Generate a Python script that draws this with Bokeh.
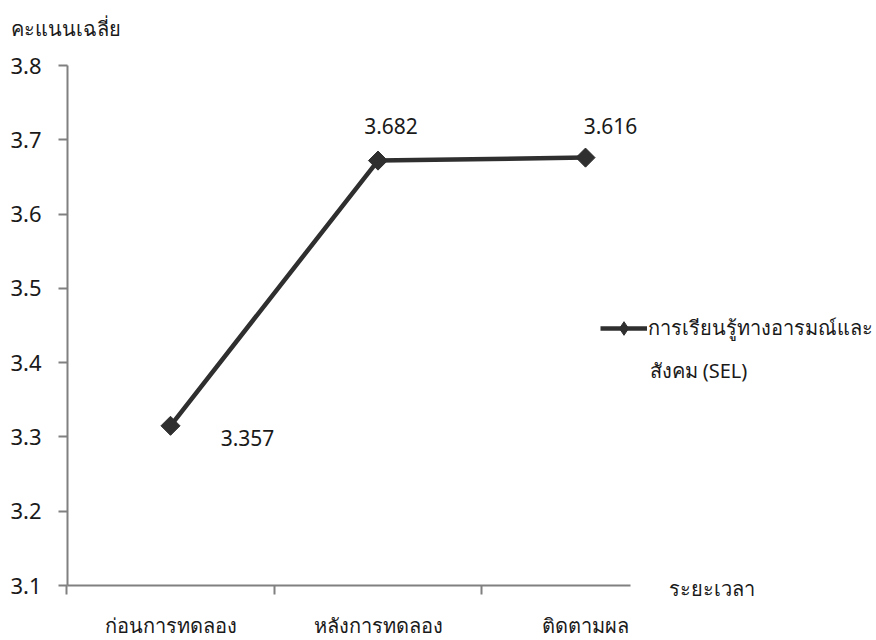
import math
from bokeh.plotting import figure
from bokeh.models import ColumnDataSource, FixedTicker, Label, Legend, LegendItem, Range1d
from bokeh.core.properties import value
from bokeh.embed import file_html
from bokeh.resources import INLINE

# ---- data ----
categories = ["ก่อนการทดลอง", "หลังการทดลอง", "ติดตามผล"]
plotted_scores = [3.315, 3.672, 3.676]        # marker positions as drawn
score_labels = ["3.357", "3.682", "3.616"]   # data labels as printed
series_name = "การเรียนรู้ทางอารมณ์และ"
series_name_2 = "สังคม (SEL)"
y_ticks = [3.1, 3.2, 3.3, 3.4, 3.5, 3.6, 3.7, 3.8]
y_title = "คะแนนเฉลี่ย"
x_title = "ระยะเวลา"

FONT = "Noto Sans"
xs = list(range(len(categories)))

# label offsets (style, not data)
lab_dx = [77, 13, 25]
lab_dy = [12, -35, -32]

src = ColumnDataSource(dict(x=xs, y=plotted_scores, lab=score_labels, dx=lab_dx, dy=lab_dy))

# frame covers the whole canvas; axes are pinned at fixed locations
PX_X = 207.5   # px per category
PX_Y = 742.9   # px per score unit
x0_px, y_top_px = 170.0, 65.0
xr = Range1d(-x0_px / PX_X, (876 - x0_px) / PX_X)
yr = Range1d(3.8 - (640 - y_top_px) / PX_Y, 3.8 + y_top_px / PX_Y)
x_left = -0.496
x_right = 2.217

p = figure(width=876, height=640, output_backend="svg", toolbar_location=None,
           x_range=xr, y_range=yr,
           min_border_left=0, min_border_right=0, min_border_top=0, min_border_bottom=0)
p.outline_line_color = None
p.grid.visible = False
p.background_fill_color = "white"

line_col = "#2f2f2f"
nan = float("nan")
r_line = p.line("x", "y", source=src, line_color=line_col, line_width=4.5)
r_pts = p.scatter("x", "y", source=src, marker="square", angle=math.pi / 4, size=13.5,
                  fill_color=line_col, line_color=line_col)
r_leg = p.scatter(x=[nan], y=[nan], marker="diamond", size=17,
                  fill_color=line_col, line_color=line_col)

p.text("x", "y", text="lab", source=src, x_offset="dx", y_offset="dy",
       text_font=value(FONT), text_font_size="21px", text_color="#1a1a1a",
       text_align="center", text_baseline="middle")

# axes
axis_col = "#808080"
yax = p.yaxis[0]
yax.fixed_location = x_left
yax.bounds = (3.1, 3.8)
yax.ticker = FixedTicker(ticks=y_ticks, minor_ticks=[])
yax.axis_line_color = axis_col
yax.axis_line_width = 2
yax.major_tick_line_color = axis_col
yax.major_tick_line_width = 2
yax.major_tick_out = 9
yax.major_tick_in = 0
yax.minor_tick_line_color = None
yax.major_label_text_font = FONT
yax.major_label_text_font_size = "22px"
yax.major_label_text_color = "#1a1a1a"
yax.major_label_standoff = 17

xax = p.xaxis[0]
xax.fixed_location = 3.1
xax.bounds = (x_left, x_right)
xax.ticker = FixedTicker(ticks=xs, minor_ticks=[-0.5, 0.5, 1.5])
xax.major_label_overrides = {i: c for i, c in enumerate(categories)}
xax.axis_line_color = axis_col
xax.axis_line_width = 2
xax.major_tick_line_color = None
xax.major_tick_out = 0
xax.minor_tick_line_color = axis_col
xax.minor_tick_line_width = 2
xax.minor_tick_out = 9
xax.minor_tick_in = 0
xax.major_label_text_font = FONT
xax.major_label_text_font_size = "20px"
xax.major_label_text_color = "#1a1a1a"
xax.major_label_standoff = 17

# titles
p.add_layout(Label(x=(10 - x0_px) / PX_X, y=3.85, text=y_title, text_font=FONT,
                   text_font_size="20px", text_color="#1a1a1a",
                   text_baseline="middle", text_align="left"))
p.add_layout(Label(x=2.4, y=3.096, text=x_title, text_font=FONT, text_font_size="20px",
                   text_color="#1a1a1a", text_baseline="middle", text_align="left"))

# legend
legend = Legend(items=[LegendItem(label=series_name, renderers=[r_line, r_leg])],
                location=(600, 295), border_line_color=None, background_fill_alpha=0,
                label_text_font=FONT, label_text_font_size="20px", label_text_color="#1a1a1a",
                glyph_width=47, glyph_height=34, label_standoff=1, padding=0, margin=0)
p.add_layout(legend, "center")
p.add_layout(Label(x=(649 - x0_px) / PX_X, y=3.389, text=series_name_2, text_font=FONT,
                   text_font_size="20px", text_color="#1a1a1a",
                   text_baseline="middle", text_align="left"))

open("out.html", "w").write(file_html(p, INLINE))
